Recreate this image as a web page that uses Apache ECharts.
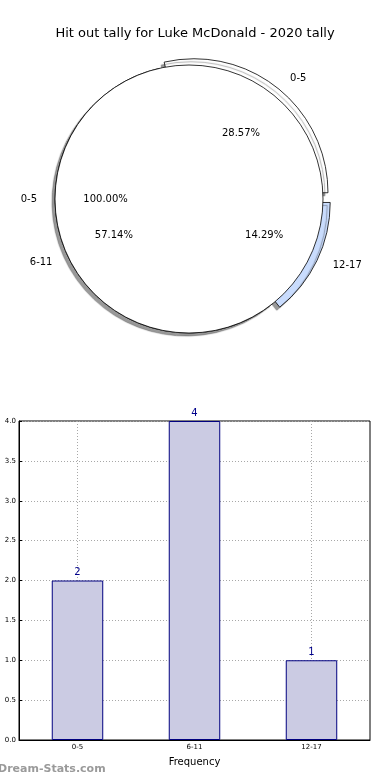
<!DOCTYPE html>
<html>
<head>
<meta charset="utf-8">
<script src="https://cdn.jsdelivr.net/npm/echarts@6/dist/echarts.min.js"></script>
<style>
html,body{margin:0;padding:0;background:#fff;}
#c{width:390px;height:780px;}
</style>
</head>
<body>
<div id="c"></div>
<script>
var title = 'Hit out tally for Luke McDonald - 2020 tally';
var categories = ['0-5', '6-11', '12-17'];
var counts = [2, 4, 1];
var innerCategories = ['0-5'];
var innerValues = [1];
var sliceColors = ['#ffffff', '#ffffff', '#c9dcfd'];
var exploded = [true, false, true];
var yTicks = ['0.0','0.5','1.0','1.5','2.0','2.5','3.0','3.5','4.0'];

var FONT = 'DejaVu Sans';
var R = 134;
var CENTER = [189, 199];

var outerData = categories.map(function (c, i) {
  return {
    name: c, value: counts[i], selected: exploded[i],
    itemStyle: { color: sliceColors[i] }
  };
});
var pctOuterData = categories.map(function (c, i) { return { name: c, value: counts[i] }; });
var innerData = innerCategories.map(function (c, i) { return { name: c, value: innerValues[i] }; });

var pctFmt = function (p) { return p.percent.toFixed(2) + '%'; };

var chart = echarts.init(document.getElementById('c'), null, { renderer: 'canvas' });
chart.setOption({
  animation: false,
  backgroundColor: '#ffffff',
  title: {
    text: title, left: 'center', top: 22,
    textStyle: { fontFamily: FONT, fontSize: 13, fontWeight: 'normal', color: '#000' }
  },
  grid: {
    left: 19, right: 20, top: 421, bottom: 40,
    show: true, borderColor: '#000', borderWidth: 1, backgroundColor: 'transparent'
  },
  xAxis: {
    type: 'category', data: categories,
    name: 'Frequency', nameLocation: 'middle', nameGap: 17,
    nameTextStyle: { fontFamily: FONT, fontSize: 10, color: '#000' },
    axisLine: { lineStyle: { color: '#000', width: 1 } },
    axisTick: { show: true, alignWithLabel: true, inside: true, length: 3, lineStyle: { color: '#000' } },
    axisLabel: { fontFamily: FONT, fontSize: 7, color: '#000', margin: 4 },
    splitLine: { show: true, alignWithLabel: true, lineStyle: { color: '#a8a8a8', type: [1, 2], width: 1 } }
  },
  yAxis: {
    type: 'value', min: 0, max: 4, interval: 0.5,
    axisLine: { show: true, lineStyle: { color: '#000', width: 1 } },
    axisTick: { show: true, inside: true, length: 3, lineStyle: { color: '#000' } },
    axisLabel: { fontFamily: FONT, fontSize: 7, color: '#000', margin: 3,
      formatter: function (v) { return yTicks[Math.round(v * 2)]; } },
    splitLine: { show: true, lineStyle: { color: '#a8a8a8', type: [1, 2], width: 1 } }
  },
  series: [
    {
      type: 'bar', data: counts, barWidth: '44%',
      itemStyle: { color: '#cbcbe3', borderColor: '#000080', borderWidth: 1 },
      label: { show: true, position: 'top', distance: 3, color: '#00008b', fontFamily: FONT, fontSize: 10 },
      emphasis: { disabled: true }, z: 3
    },
    {
      type: 'pie', center: CENTER, radius: R, startAngle: 0, clockwise: false,
      selectedMode: 'multiple', selectedOffset: 8,
      data: outerData, z: 1,
      itemStyle: { borderColor: '#000', borderWidth: 0.8,
        shadowColor: 'rgba(0,0,0,0.4)', shadowBlur: 1, shadowOffsetX: -3, shadowOffsetY: 3 },
      label: { show: true, position: 'outside', fontFamily: FONT, fontSize: 10, color: '#000' },
      labelLine: { show: false, length: 12, length2: 0 },
      emphasis: { disabled: true }, avoidLabelOverlap: false
    },
    {
      type: 'pie', center: CENTER, radius: R, startAngle: 0, clockwise: false,
      data: innerData, z: 2, selectedMode: false,
      itemStyle: { color: '#ffffff', borderColor: '#000', borderWidth: 0.8 },
      label: { show: true, position: 'outside', fontFamily: FONT, fontSize: 10, color: '#000' },
      labelLine: { show: false, length: 13, length2: 0 },
      emphasis: { disabled: true }, avoidLabelOverlap: false
    },
    {
      type: 'pie', center: CENTER, radius: [R * 0.2, R], startAngle: 0, clockwise: false,
      data: pctOuterData, z: 3, selectedMode: false, silent: true,
      itemStyle: { color: 'transparent', borderWidth: 0 },
      label: { show: true, position: 'inside', formatter: pctFmt, fontFamily: FONT, fontSize: 10, color: '#000' },
      labelLine: { show: false }, emphasis: { disabled: true }
    },
    {
      type: 'pie', center: CENTER, radius: [R * 0.2, R], startAngle: 0, clockwise: false,
      data: innerData, z: 3, selectedMode: false, silent: true,
      itemStyle: { color: 'transparent', borderWidth: 0 },
      label: { show: true, position: 'inside', formatter: pctFmt, fontFamily: FONT, fontSize: 10, color: '#000' },
      labelLine: { show: false }, emphasis: { disabled: true }
    }
  ],
  graphic: [{
    type: 'text', left: -2, top: 764,
    style: { text: 'Dream-Stats.com', fontFamily: FONT, fontSize: 11, fontWeight: 'bold', fill: '#9a9a9a' }
  }]
});
</script>
</body>
</html>
